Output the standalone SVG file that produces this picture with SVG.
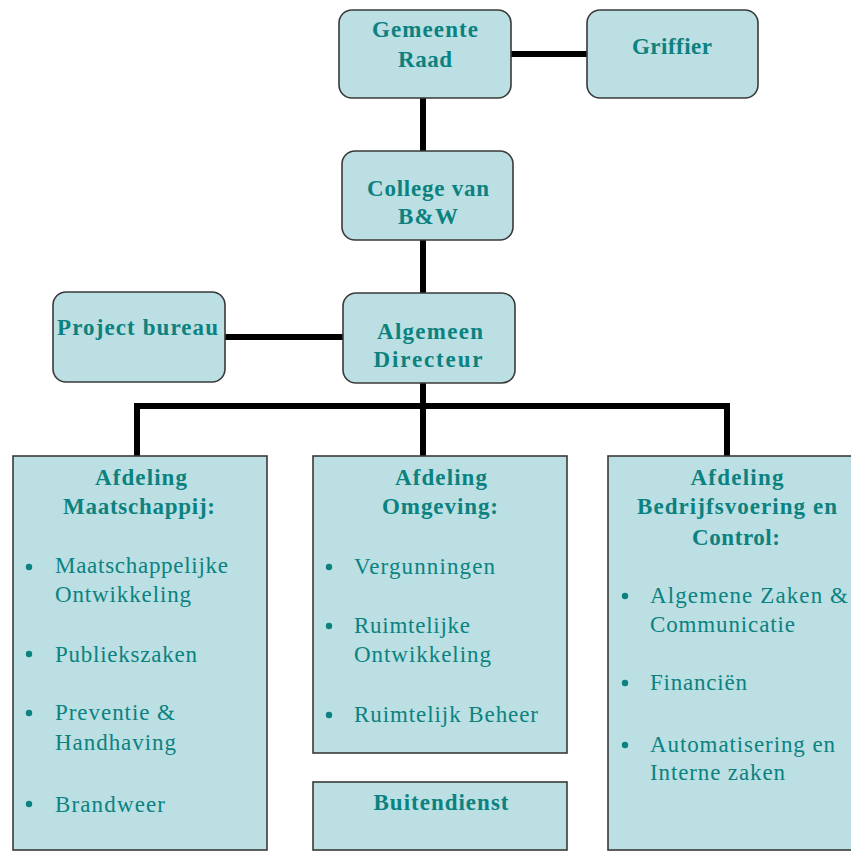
<svg xmlns="http://www.w3.org/2000/svg" width="851" height="852" viewBox="0 0 851 852">
<style>
.box{fill:#bbdfe3;stroke:#3a3a3a;stroke-width:1.6}
.h{font-family:"Liberation Serif","Times New Roman",serif;font-weight:bold;font-size:23px;fill:#0b8280;text-anchor:middle}
.t{font-family:"Liberation Serif","Times New Roman",serif;font-size:23px;fill:#0b8280}
.b{fill:#0b8280}
.c{stroke:#000;stroke-width:6;fill:none}
</style>
<rect width="851" height="852" fill="#ffffff"/>
<g id="connectors">
<line class="c" x1="511" y1="54" x2="588" y2="54"/>
<line class="c" x1="423" y1="98" x2="423" y2="151"/>
<line class="c" x1="423" y1="240" x2="423" y2="294"/>
<line class="c" x1="225" y1="337" x2="343" y2="337"/>
<line class="c" x1="423" y1="383" x2="423" y2="456"/>
<polyline class="c" points="137,457 137,406 727,406 727,457"/>
</g>
<g id="gemeente-raad">
<rect class="box" x="339" y="10" width="172" height="88" rx="13"/>
<text class="h" x="425" y="37" textLength="106" lengthAdjust="spacing">Gemeente</text>
<text class="h" x="425" y="67" textLength="54" lengthAdjust="spacing">Raad</text>
</g>
<g id="griffier">
<rect class="box" x="587" y="10" width="171" height="88" rx="13"/>
<text class="h" x="672" y="54" textLength="80" lengthAdjust="spacing">Griffier</text>
</g>
<g id="college">
<rect class="box" x="342" y="151" width="171" height="89" rx="13"/>
<text class="h" x="428" y="196" textLength="122" lengthAdjust="spacing">College van</text>
<text class="h" x="428" y="224" textLength="60" lengthAdjust="spacing">B&amp;W</text>
</g>
<g id="project-bureau">
<rect class="box" x="53" y="292" width="172" height="90" rx="13"/>
<text class="h" x="137.5" y="335" textLength="161" lengthAdjust="spacing">Project bureau</text>
</g>
<g id="algemeen-directeur">
<rect class="box" x="343" y="293" width="172" height="90" rx="13"/>
<text class="h" x="430" y="339" textLength="106" lengthAdjust="spacing">Algemeen</text>
<text class="h" x="428" y="367" textLength="109" lengthAdjust="spacing">Directeur</text>
</g>
<g id="afdeling-maatschappij">
<rect class="box" x="13" y="456" width="254" height="394"/>
<text class="h" x="141" y="485" textLength="92" lengthAdjust="spacing">Afdeling</text>
<text class="h" x="139" y="514" textLength="152" lengthAdjust="spacing">Maatschappij:</text>
<circle class="b" cx="29" cy="567" r="3.2"/>
<text class="t" x="55" y="573" textLength="173" lengthAdjust="spacing">Maatschappelijke</text>
<text class="t" x="55" y="602" textLength="136" lengthAdjust="spacing">Ontwikkeling</text>
<circle class="b" cx="29" cy="654" r="3.2"/>
<text class="t" x="55" y="662" textLength="142" lengthAdjust="spacing">Publiekszaken</text>
<circle class="b" cx="29" cy="713" r="3.2"/>
<text class="t" x="55" y="720" textLength="120" lengthAdjust="spacing">Preventie &amp;</text>
<text class="t" x="55" y="750" textLength="121" lengthAdjust="spacing">Handhaving</text>
<circle class="b" cx="29" cy="804" r="3.2"/>
<text class="t" x="55" y="812" textLength="110" lengthAdjust="spacing">Brandweer</text>
</g>
<g id="afdeling-omgeving">
<rect class="box" x="313" y="456" width="254" height="297"/>
<text class="h" x="441" y="485" textLength="92" lengthAdjust="spacing">Afdeling</text>
<text class="h" x="440" y="514" textLength="116" lengthAdjust="spacing">Omgeving:</text>
<circle class="b" cx="329" cy="567" r="3.2"/>
<text class="t" x="354" y="574" textLength="141" lengthAdjust="spacing">Vergunningen</text>
<circle class="b" cx="329" cy="626" r="3.2"/>
<text class="t" x="354" y="633" textLength="116" lengthAdjust="spacing">Ruimtelijke</text>
<text class="t" x="354" y="662" textLength="137" lengthAdjust="spacing">Ontwikkeling</text>
<circle class="b" cx="329" cy="715" r="3.2"/>
<text class="t" x="354" y="722" textLength="184" lengthAdjust="spacing">Ruimtelijk Beheer</text>
</g>
<g id="buitendienst">
<rect class="box" x="313" y="782" width="254" height="68"/>
<text class="h" x="441" y="810" textLength="135" lengthAdjust="spacing">Buitendienst</text>
</g>
<g id="afdeling-bedrijfsvoering">
<rect class="box" x="608" y="456" width="260" height="394"/>
<text class="h" x="737" y="485" textLength="93" lengthAdjust="spacing">Afdeling</text>
<text class="h" x="737" y="514" textLength="200" lengthAdjust="spacing">Bedrijfsvoering en</text>
<text class="h" x="736" y="545" textLength="88" lengthAdjust="spacing">Control:</text>
<circle class="b" cx="625" cy="596" r="3.2"/>
<text class="t" x="650" y="603" textLength="198" lengthAdjust="spacing">Algemene Zaken &amp;</text>
<text class="t" x="650" y="632" textLength="145" lengthAdjust="spacing">Communicatie</text>
<circle class="b" cx="625" cy="683" r="3.2"/>
<text class="t" x="650" y="690" textLength="97" lengthAdjust="spacing">Financiën</text>
<circle class="b" cx="625" cy="745" r="3.2"/>
<text class="t" x="650" y="752" textLength="185" lengthAdjust="spacing">Automatisering en</text>
<text class="t" x="650" y="780" textLength="135" lengthAdjust="spacing">Interne zaken</text>
</g>
</svg>
